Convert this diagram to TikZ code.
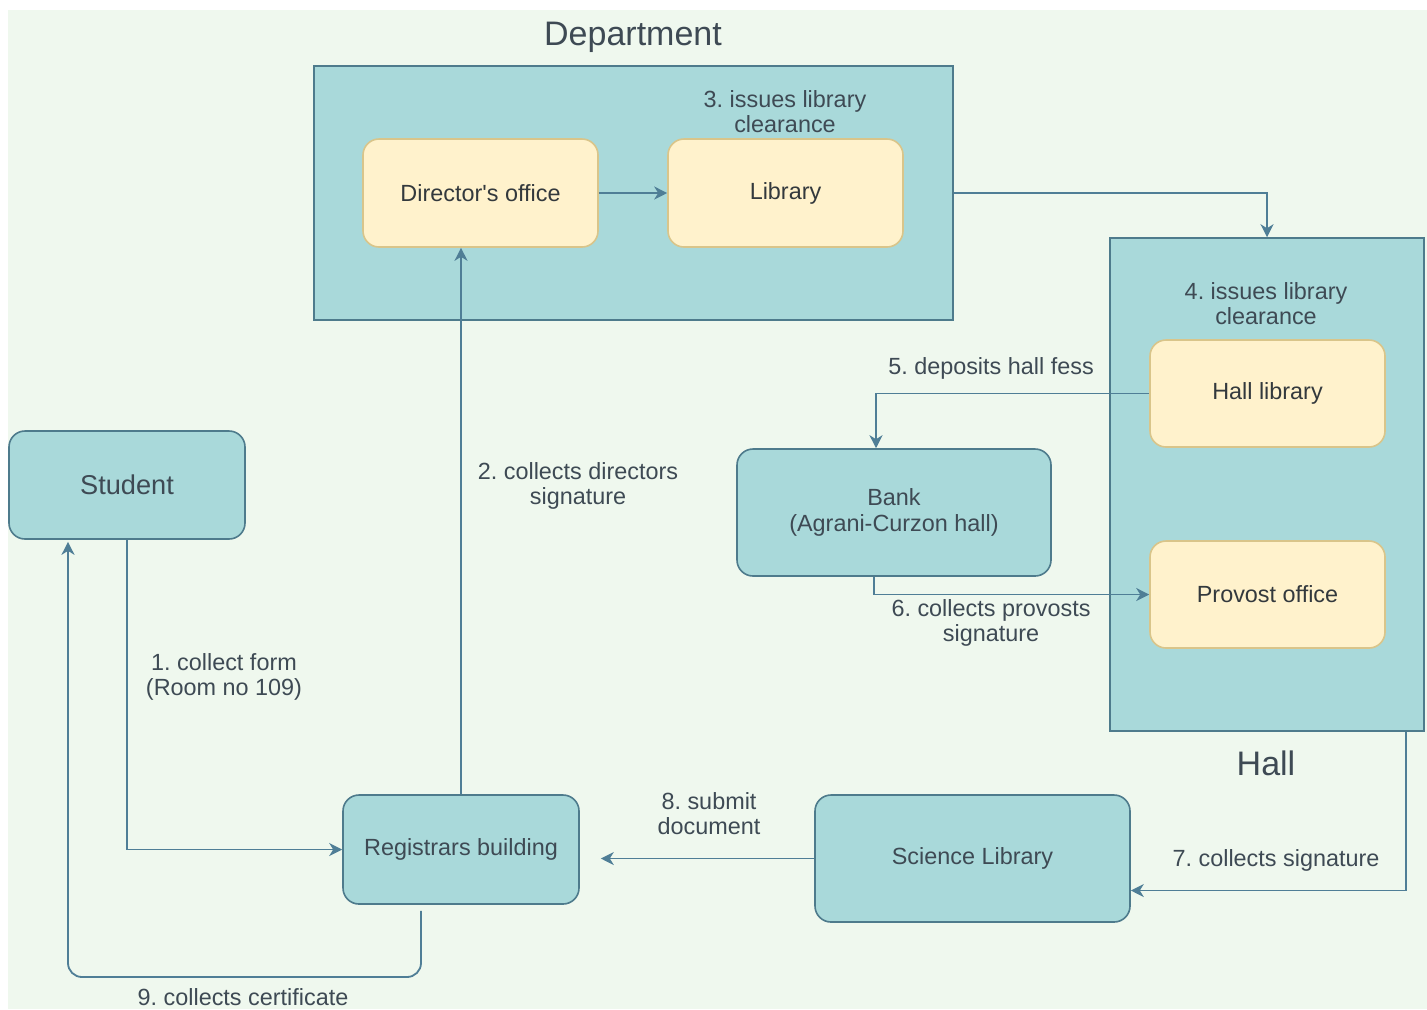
\documentclass[tikz,border=0pt]{standalone}
\usepackage{fontspec}
\setmainfont{Liberation Sans}
\usetikzlibrary{arrows.meta}
\frenchspacing

\definecolor{paper}{HTML}{EFF8EE}
\definecolor{tealfill}{HTML}{A9D9DA}
\definecolor{tealline}{HTML}{4E7B8C}
\definecolor{creamfill}{HTML}{FFF2CC}
\definecolor{creamline}{HTML}{D9C58A}
\definecolor{flowline}{HTML}{4F7E96}
\definecolor{labeltext}{HTML}{3E4A54}
\definecolor{boxtext}{HTML}{33393D}

\tikzset{
  basefont/.style={font=\fontsize{11.7}{12.6}\selectfont},
  area/.style={draw=tealline, fill=tealfill, line width=0.8pt, inner sep=0pt},
  tealbox/.style={draw=tealline, fill=tealfill, line width=0.8pt, rounded corners=8pt,
    align=center, text=labeltext, basefont, inner sep=0pt},
  creambox/.style={draw=creamline, fill=creamfill, line width=0.8pt, rounded corners=8pt,
    align=center, text=boxtext, basefont, inner sep=0pt},
  lbl/.style={align=center, text=labeltext, basefont, inner sep=0pt},
  heading/.style={text=labeltext, font=\fontsize{17}{19}\selectfont, inner sep=0pt},
  flow/.style={draw=flowline, line width=0.9pt,
    -{Stealth[length=6.5pt, width=6.5pt, inset=2pt]}},
}

\begin{document}
\begin{tikzpicture}[x=0.5pt, y=-0.5pt]
  % page and canvas
  \fill[white] (0,0) rectangle (1427,1009);
  \fill[paper] (8,10) rectangle (1427,1009);
  \useasboundingbox (0,0) rectangle (1427,1009);

  % containers
  \node[area, minimum width=319.5pt, minimum height=127pt] (dept) at (633.5,193) {};
  \node[area, minimum width=157pt, minimum height=246.5pt] (hall) at (1267,484.5) {};
  \node[heading] (depttitle) at (633,37) {Department};
  \node[heading] (halltitle) at (1266,763) {Hall};

  % offices inside the containers
  \node[creambox, minimum width=117.5pt, minimum height=54pt] (dir) at (480.5,193) {Director\textquotesingle s office};
  \node[creambox, minimum width=117.5pt, minimum height=54pt] (lib) at (785.5,193) {Library};
  \node[creambox, minimum width=117.5pt, minimum height=53.5pt] (halllib) at (1267.5,393.5) {Hall library};
  \node[creambox, minimum width=117.5pt, minimum height=53.5pt] (provost) at (1267.5,594.5) {Provost office};

  % stand-alone places
  \node[tealbox, minimum width=118pt, minimum height=54pt, font=\fontsize{13.6}{15}\selectfont] (student) at (127,485) {Student};
  \node[tealbox, minimum width=118pt, minimum height=54.5pt] (reg) at (461,849.5) {Registrars building};
  \node[tealbox, minimum width=157pt, minimum height=63.5pt] (bank) at (894,512.5) {Bank\\(Agrani-Curzon hall)};
  \node[tealbox, minimum width=157.5pt, minimum height=63.5pt] (sci) at (972.5,858.5) {Science Library};

  % step labels
  \node[lbl] (l1) at (224,677) {1. collect form\\(Room no 109)};
  \node[lbl] (l2) at (578,486) {2. collects directors\\signature};
  \node[lbl] (l3) at (785,112) {3. issues library\\clearance};
  \node[lbl] (l4) at (1266,304) {4. issues library\\clearance};
  \node[lbl] (l5) at (991,368) {5. deposits hall fess};
  \node[lbl] (l6) at (991,623) {6. collects provosts\\signature};
  \node[lbl] (l7) at (1276,860) {7. collects signature};
  \node[lbl] (l8) at (709,814) {8. submit\\document};
  \node[lbl] (l9) at (243,997) {9. collects certificate};

  % helper points for connectors
  \path (bank.north) ++(-18,0) coordinate (bankin);
  \path (bank.south) ++(-20,0) coordinate (bankout);
  \path (hall.south east) ++(-19,0) coordinate (hallout);
  \path (sci.east) ++(0,32) coordinate (sciin);
  \path (reg.east) ++(21,0) coordinate (regright);
  \path (reg.south) ++(-40,6) coordinate (regout);
  \path (student.south) ++(-59,2) coordinate (studentin);
  \coordinate (row9) at (0,977);

  % connectors
  \draw[flow] (dir.east) -- (lib.west);
  \draw[flow] (dept.east) -| (hall.north);
  \draw[flow] (halllib.west) -| (bankin);
  \draw[flow] (bankout) |- (provost.west);
  \draw[flow] (student.south) |- (reg.west);
  \draw[flow] (reg.north) -- (reg.north |- dir.south);
  \draw[flow] (hallout) |- (sciin);
  \draw[flow] (sci.west) -- (regright |- sci.west);
  \draw[flow, rounded corners=7pt] (regout) -- (regout |- row9) -| (studentin);
\end{tikzpicture}
\end{document}
